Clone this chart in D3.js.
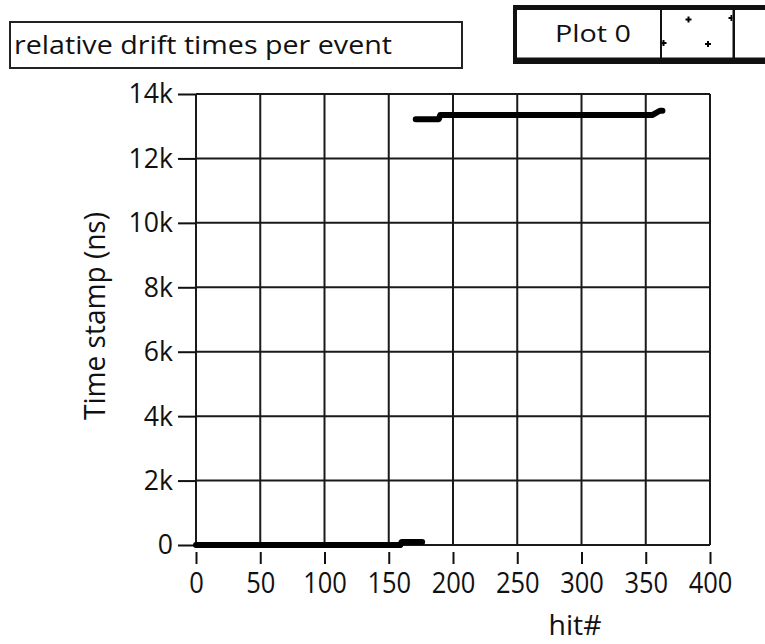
<!DOCTYPE html>
<html>
<head>
<meta charset="utf-8">
<script src="https://cdn.jsdelivr.net/npm/d3@7"></script>
<style>
  html, body { margin: 0; padding: 0; background: #fff; }
  svg { display: block; }
  text { font-family: "Open Sans", "Noto Sans", sans-serif; fill: #111; }
</style>
</head>
<body>
<svg id="chart" width="765" height="644"></svg>
<script>
// Drift-time traces: early hits sit near zero, late hits cluster near 13.3 µs
const earlyHits  = [0, 159, 160, 176];
const earlyTimes = [0, 0, 95, 95];
const lateHits   = [171, 189, 190, 355, 361, 363];
const lateTimes  = [13220, 13220, 13345, 13345, 13480, 13480];

const xTicks = [0, 50, 100, 150, 200, 250, 300, 350, 400];
const yTicks = [0, 2000, 4000, 6000, 8000, 10000, 12000, 14000];
const yTickLabels = ["0", "2k", "4k", "6k", "8k", "10k", "12k", "14k"];

const titleText = "relative drift times per event";
const legendText = "Plot 0";
const xLabel = "hit#";
const yLabel = "Time stamp (ns)";

const svg = d3.select("#chart");

const x = d3.scaleLinear().domain([0, 400]).range([196, 710]);
const y = d3.scaleLinear().domain([0, 14000]).range([545, 94]);

// Squeeze or stretch a text run horizontally (the panel font is narrower than Open Sans)
function fitWidth(sel, factor) {
  sel.each(function () {
    const w = this.getComputedTextLength();
    d3.select(this).attr("textLength", w * factor).attr("lengthAdjust", "spacingAndGlyphs");
  });
}
function fixWidth(sel, width) {
  sel.attr("textLength", width).attr("lengthAdjust", "spacingAndGlyphs");
}

// Title box
svg.append("rect")
  .attr("x", 10).attr("y", 22).attr("width", 452).attr("height", 46)
  .attr("fill", "#fff").attr("stroke", "#222").attr("stroke-width", 2);
svg.append("text")
  .attr("x", 14).attr("y", 54)
  .attr("font-size", 26)
  .text(titleText)
  .call(fixWidth, 378);

// Plot legend
const lg = svg.append("g");
lg.append("rect").attr("x", 513).attr("y", 5).attr("width", 260).attr("height", 59).attr("fill", "#111");
lg.append("rect").attr("x", 517).attr("y", 10).attr("width", 143).attr("height", 47.5).attr("fill", "#fff");
lg.append("rect").attr("x", 662).attr("y", 10).attr("width", 70.5).attr("height", 47.5).attr("fill", "#fff");
lg.append("rect").attr("x", 735).attr("y", 10).attr("width", 40).attr("height", 47.5).attr("fill", "#fff");
lg.append("text")
  .attr("x", 593).attr("y", 42)
  .attr("text-anchor", "middle")
  .attr("font-size", 24)
  .text(legendText)
  .call(fixWidth, 76);

// Point-style swatch
svg.append("clipPath").attr("id", "swatch")
  .append("rect").attr("x", 662).attr("y", 10).attr("width", 70.5).attr("height", 47.5);
const sw = lg.append("g").attr("clip-path", "url(#swatch)");
const swatchPts = [[688.5, 19.5], [708, 44], [731.5, 18], [663.5, 43]];
swatchPts.forEach(([px, py]) => {
  sw.append("path")
    .attr("d", `M${px - 3},${py}H${px + 3}M${px},${py - 3}V${py + 3}`)
    .attr("stroke", "#000").attr("stroke-width", 2);
});

// Grid
const grid = svg.append("g").attr("stroke", "#1a1a1a").attr("stroke-width", 2);
grid.selectAll("line.v").data(xTicks).join("line")
  .attr("x1", d => x(d)).attr("x2", d => x(d))
  .attr("y1", y(14000)).attr("y2", y(0));
grid.selectAll("line.h").data(yTicks).join("line")
  .attr("x1", x(0)).attr("x2", x(400))
  .attr("y1", d => y(d)).attr("y2", d => y(d));

// Axes
const xAxis = d3.axisBottom(x).tickValues(xTicks).tickSize(12).tickPadding(8);
const gx = svg.append("g").attr("transform", `translate(0,${y(0) + 7})`).call(xAxis);
gx.select(".domain").remove();
gx.selectAll(".tick line").attr("stroke", "#111").attr("stroke-width", 2);
gx.selectAll(".tick text").attr("font-size", 30).attr("fill", "#111")
  .attr("font-family", "\"Open Sans\", sans-serif")
  .call(fitWidth, 0.85);

const yAxis = d3.axisLeft(y).tickValues(yTicks)
  .tickFormat((d, i) => yTickLabels[i]).tickSize(18).tickPadding(5);
const gy = svg.append("g").attr("transform", `translate(${x(0)},0)`).call(yAxis);
gy.select(".domain").remove();
gy.selectAll(".tick line").attr("stroke", "#111").attr("stroke-width", 2);
gy.selectAll(".tick text").attr("font-size", 28).attr("fill", "#111")
  .attr("font-family", "\"Open Sans\", sans-serif")
  .call(fitWidth, 0.95);

svg.append("text")
  .attr("x", 575).attr("y", 635)
  .attr("text-anchor", "middle")
  .attr("font-size", 27)
  .text(xLabel)
  .call(fixWidth, 53);
svg.append("text")
  .attr("transform", `translate(105,316) rotate(-90)`)
  .attr("text-anchor", "middle")
  .attr("font-size", 29)
  .text(yLabel)
  .call(fixWidth, 208);

// Traces
const line = d3.line().x(d => x(d[0])).y(d => y(d[1]));
const traces = [
  d3.zip(earlyHits, earlyTimes),
  d3.zip(lateHits, lateTimes)
];
svg.append("g").selectAll("path").data(traces).join("path")
  .attr("d", line)
  .attr("fill", "none")
  .attr("stroke", "#000")
  .attr("stroke-width", 6)
  .attr("stroke-linejoin", "round")
  .attr("stroke-linecap", "round");
</script>
</body>
</html>
